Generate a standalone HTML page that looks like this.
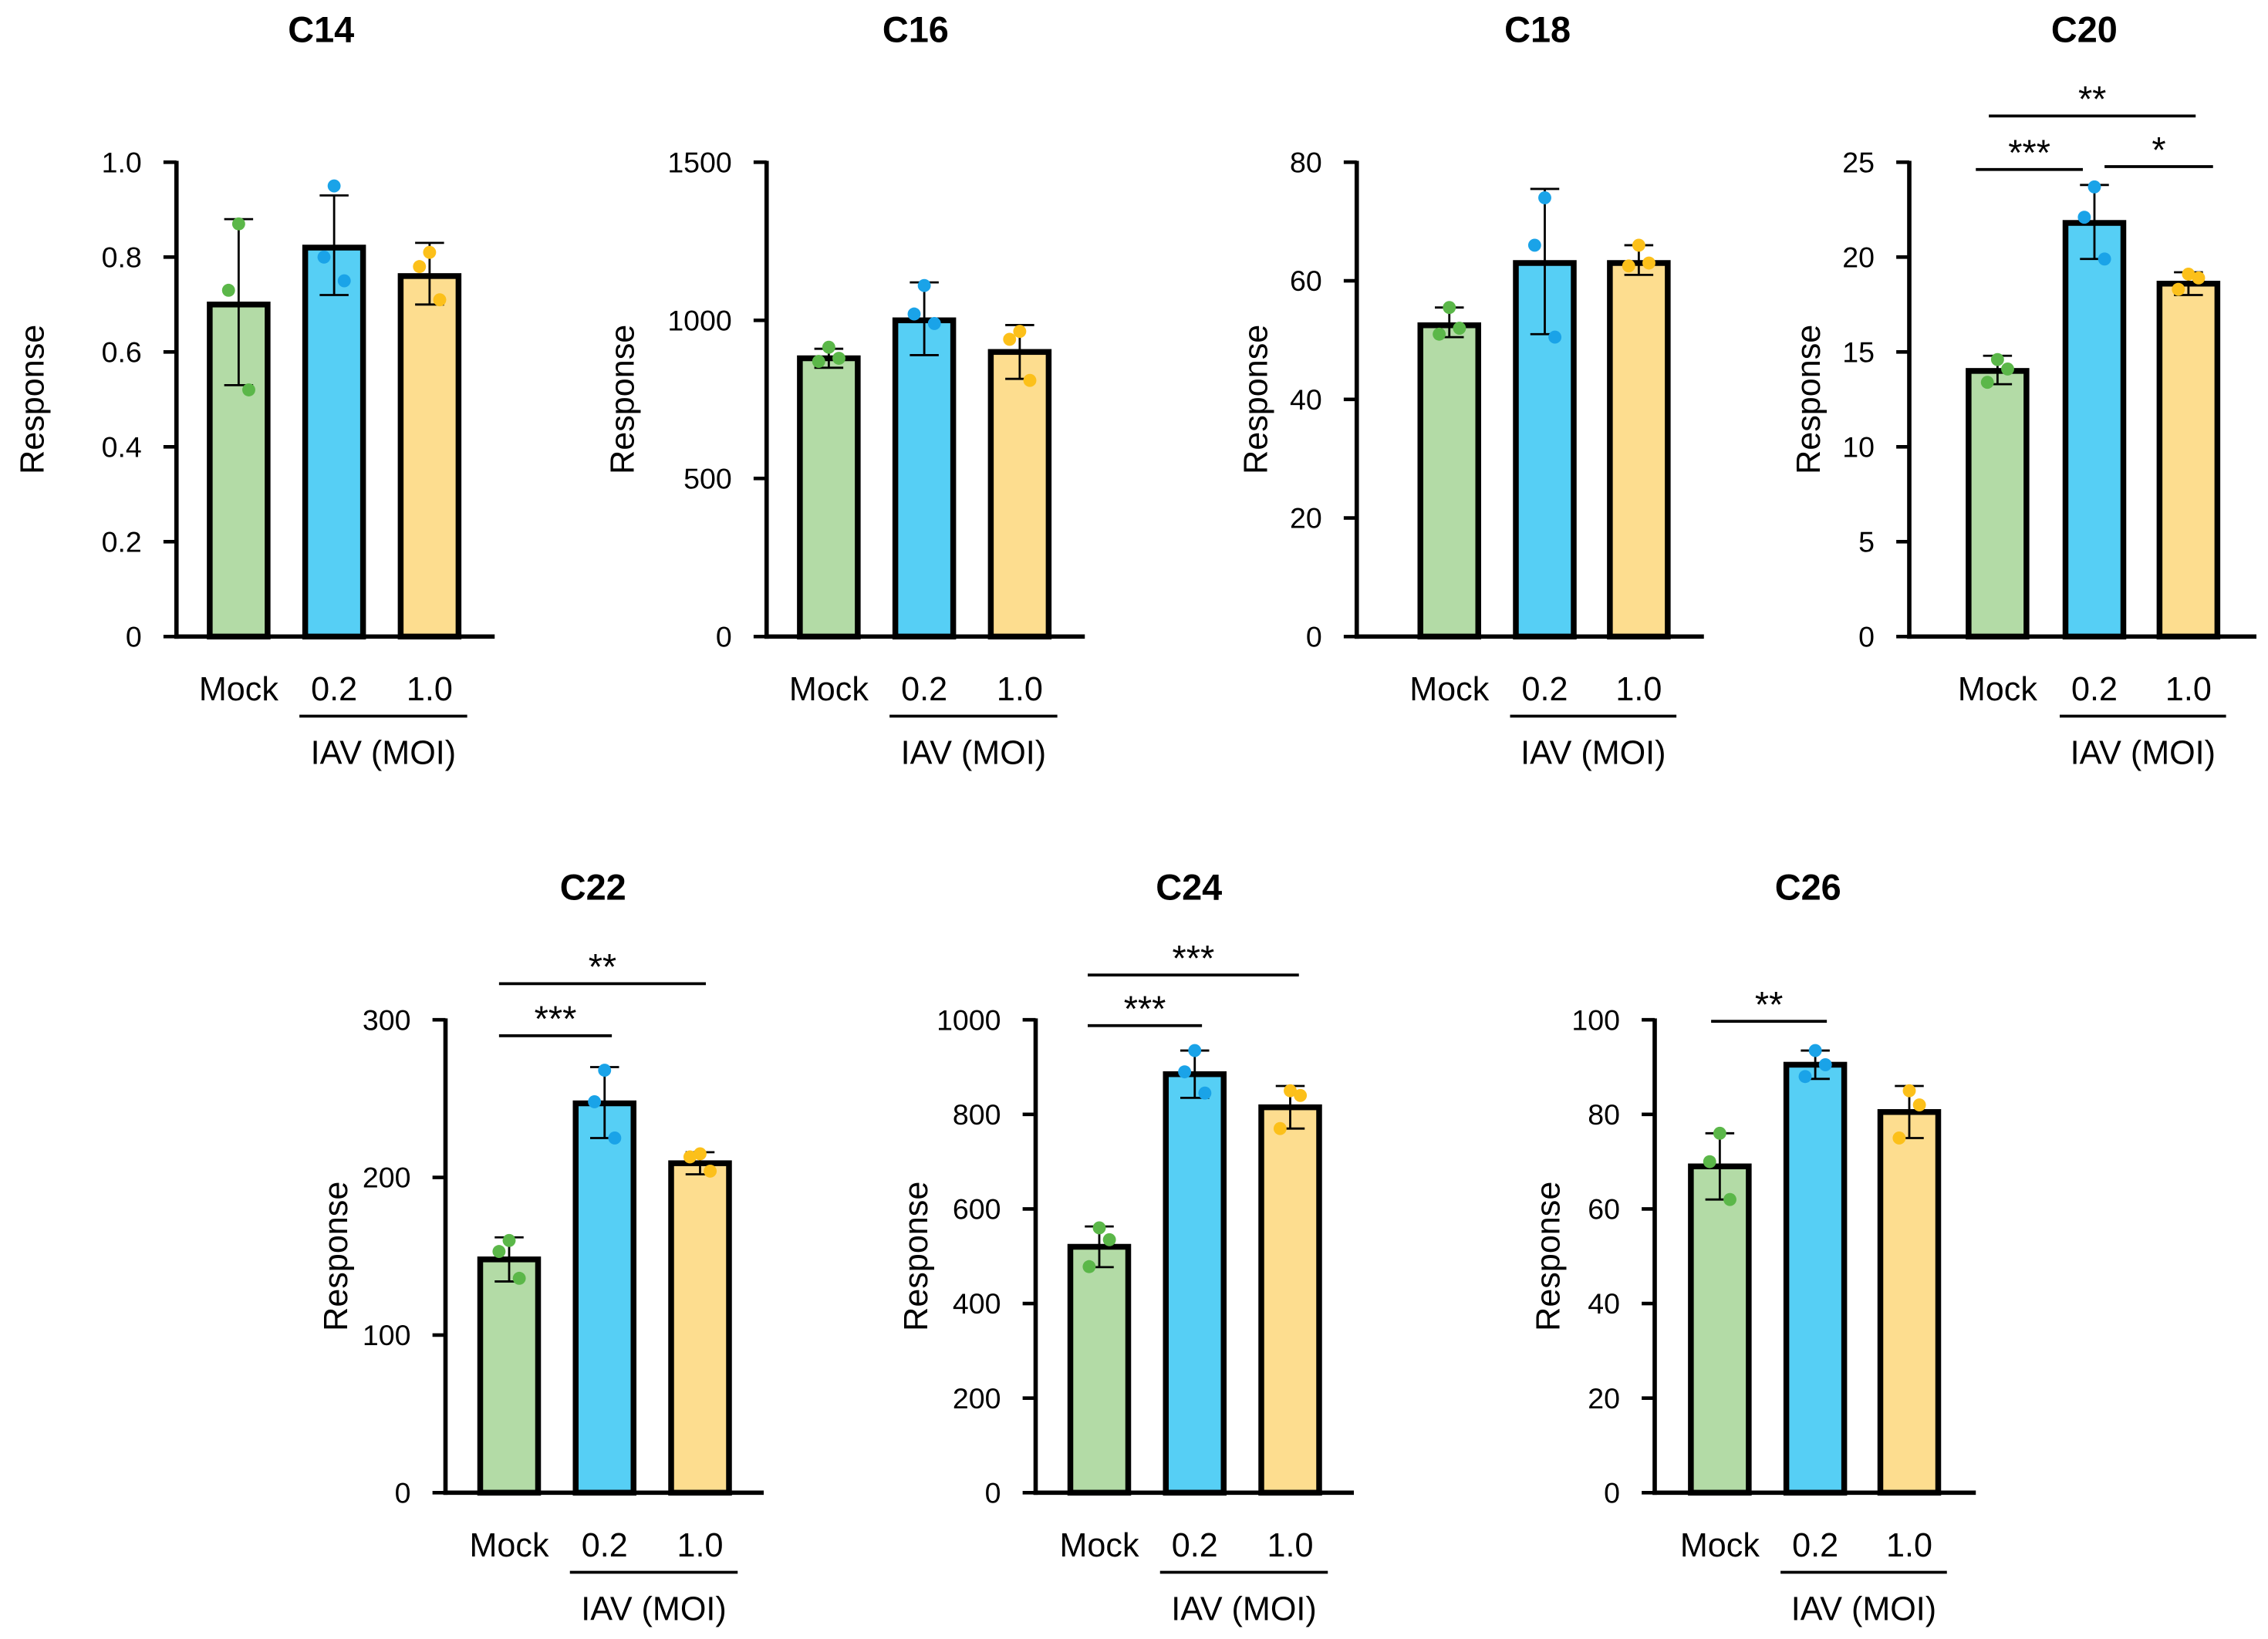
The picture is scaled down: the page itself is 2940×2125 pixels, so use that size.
<!DOCTYPE html>
<html><head><meta charset="utf-8"><style>
html,body{margin:0;padding:0;background:#fff}
svg{display:block}
text{font-family:"Liberation Sans",Arial,sans-serif}
</style></head><body>
<svg id="chart" width="2940" height="2125" viewBox="0 0 1568 1133" xmlns="http://www.w3.org/2000/svg"></svg>
<script>
const panelTitles = ["C14","C16","C18","C20","C22","C24","C26"];
const categories = ["Mock","0.2","1.0"];
const yMaxes = [1.0,1500,80,25,300,1000,100];
const tickLabels = [
 ["0","0.2","0.4","0.6","0.8","1.0"],
 ["0","500","1000","1500"],
 ["0","20","40","60","80"],
 ["0","5","10","15","20","25"],
 ["0","100","200","300"],
 ["0","200","400","600","800","1000"],
 ["0","20","40","60","80","100"]];
const means = [[0.70,0.82,0.76],[880,1000,900],[52.5,63,63],[14,21.8,18.6],[148,247,209],[520,885,815],[69,90.5,80.5]];
const errHigh = [[0.88,0.93,0.83],[910,1120,985],[55.5,75.5,66],[14.8,23.8,19.2],[162,270,216],[563,935,860],[76,93.5,86]];
const errLow = [[0.53,0.72,0.70],[850,890,815],[50.5,51,61],[13.3,19.9,18.0],[134,225,202],[477,835,770],[62,87.5,75]];
const points = [
 [[0.87,0.73,0.52],[0.95,0.80,0.75],[0.81,0.78,0.71]],
 [[915,870,880],[1110,1020,990],[965,940,810]],
 [[55.5,51,52],[74,66,50.5],[66,62.5,63]],
 [[14.6,13.4,14.1],[23.7,22.1,19.9],[19.1,18.3,18.9]],
 [[160,153,136],[268,248,225],[215,213,204]],
 [[560,478,535],[935,890,845],[850,770,840]],
 [[76,70,62],[93.5,88,90.5],[85,75,82]]];
const sigLabels = [[],[],[],[["***",0,1],["**",0,2],["*",1,2]],[["***",0,1],["**",0,2]],[["***",0,1],["***",0,2]],[["**",0,1]]];

const layout = [
 {ax:122,top:112,bot:440,off:[43,109,175],end:220,tx:222,yt:-100},
 {ax:530,top:112,bot:440,off:[43,109,175],end:220,tx:633,yt:-100},
 {ax:938,top:112,bot:440,off:[64,130,195],end:240,tx:1063,yt:-70},
 {ax:1320,top:112,bot:440,off:[61,128,193],end:240,tx:1441,yt:-70},
 {ax:308,top:705,bot:1032,off:[44,110,176],end:220,tx:410,yt:-76},
 {ax:716,top:705,bot:1032,off:[44,110,176],end:220,tx:822,yt:-83},
 {ax:1144,top:705,bot:1032,off:[45,111,176],end:222,tx:1250,yt:-74}];
// bracket geometry per panel: [x1 offset, x2 offset, y]
const bracketGeom = [[],[],[],[[-15,-8,117],[-6,5,80],[7,17,115]],[[-7,5,716],[-7,4,680]],[[-8,5,709],[-8,6,674]],[[-6,8,706]]];
const fills=["#b3dba6","#56cff5","#fddd8f"], dots=["#5bb749","#1aa3e8","#fcc01a"];
const svg=document.getElementById('chart'), NS="http://www.w3.org/2000/svg";
function mk(tag,attrs,parent,txt){const e=document.createElementNS(NS,tag);for(const k in attrs)e.setAttribute(k,attrs[k]);if(txt!==undefined)e.textContent=txt;parent.appendChild(e);return e;}
panelTitles.forEach((t,p)=>{
 const L=layout[p];
 const g=mk('g',{},svg);
 
 
 const y=v=>L.bot-(v/yMaxes[p])*(L.bot-L.top);
 const cx=i=>L.ax+L.off[i];
 const tt=mk('text',{x:L.tx,y:L.top-83,'text-anchor':'middle','font-size':25,'font-weight':'bold'},g,t);
 
 
 categories.forEach((c,i)=>{
  const b=mk('rect',{x:cx(i)-20,y:y(means[p][i]),width:40,height:L.bot-y(means[p][i]),fill:fills[i],stroke:'#000','stroke-width':4},g);
  
  
  const e=mk('g',{stroke:'#000','stroke-width':1.5},g);
  
  
  mk('line',{x1:cx(i),x2:cx(i),y1:y(errHigh[p][i]),y2:y(errLow[p][i])},e);
  mk('line',{x1:cx(i)-10,x2:cx(i)+10,y1:y(errHigh[p][i]),y2:y(errHigh[p][i])},e);
  mk('line',{x1:cx(i)-10,x2:cx(i)+10,y1:y(errLow[p][i]),y2:y(errLow[p][i])},e);
  points[p][i].forEach((v,k)=>{
   const d=mk('circle',{cx:cx(i)+[0,-7,7][k],cy:y(v),r:4.5,fill:dots[i]},g);
   
   
  });
  const cl=mk('text',{x:cx(i),y:L.bot+44,'text-anchor':'middle','font-size':23},g,c);
  
  
 });
 const ya=mk('line',{x1:L.ax,x2:L.ax,y1:L.top-1,y2:L.bot+1.5,stroke:'#000','stroke-width':3},g);
 
 
 const xa=mk('line',{x1:L.ax-1.5,x2:L.ax+L.end,y1:L.bot,y2:L.bot,stroke:'#000','stroke-width':3},g);
 
 
 const n=tickLabels[p].length;
 tickLabels[p].forEach((lab,k)=>{
  const ty=L.bot-k*(L.bot-L.top)/(n-1);
  mk('line',{x1:L.ax-9,x2:L.ax,y1:ty,y2:ty,stroke:'#000','stroke-width':2.5},g);
  const tl=mk('text',{x:L.ax-24,y:ty+7,'text-anchor':'end','font-size':20},g,lab);
  
  
 });
 const yt=mk('text',{transform:`translate(${L.ax+L.yt+8},${(L.top+L.bot)/2}) rotate(-90)`,'text-anchor':'middle','font-size':23},g,'Response');
 
 
 const ux1=cx(1)-24,ux2=cx(2)+26;
 mk('line',{x1:ux1,x2:ux2,y1:L.bot+55,y2:L.bot+55,stroke:'#000','stroke-width':2},g);
 const gx=mk('text',{x:(ux1+ux2)/2,y:L.bot+88,'text-anchor':'middle','font-size':23},g,'IAV (MOI)');
 
 
 sigLabels[p].forEach((s,j)=>{
  const G=bracketGeom[p][j];
  const x1=cx(s[1])+G[0], x2=cx(s[2])+G[1], ly=G[2];
  const sg=mk('g',{},g);
  
  
  mk('line',{x1:x1,x2:x2,y1:ly,y2:ly,stroke:'#000','stroke-width':2},sg);
  mk('text',{x:(x1+x2)/2,y:ly-3,'text-anchor':'middle','font-size':25},sg,s[0]);
 });
});
</script>
</body></html>
